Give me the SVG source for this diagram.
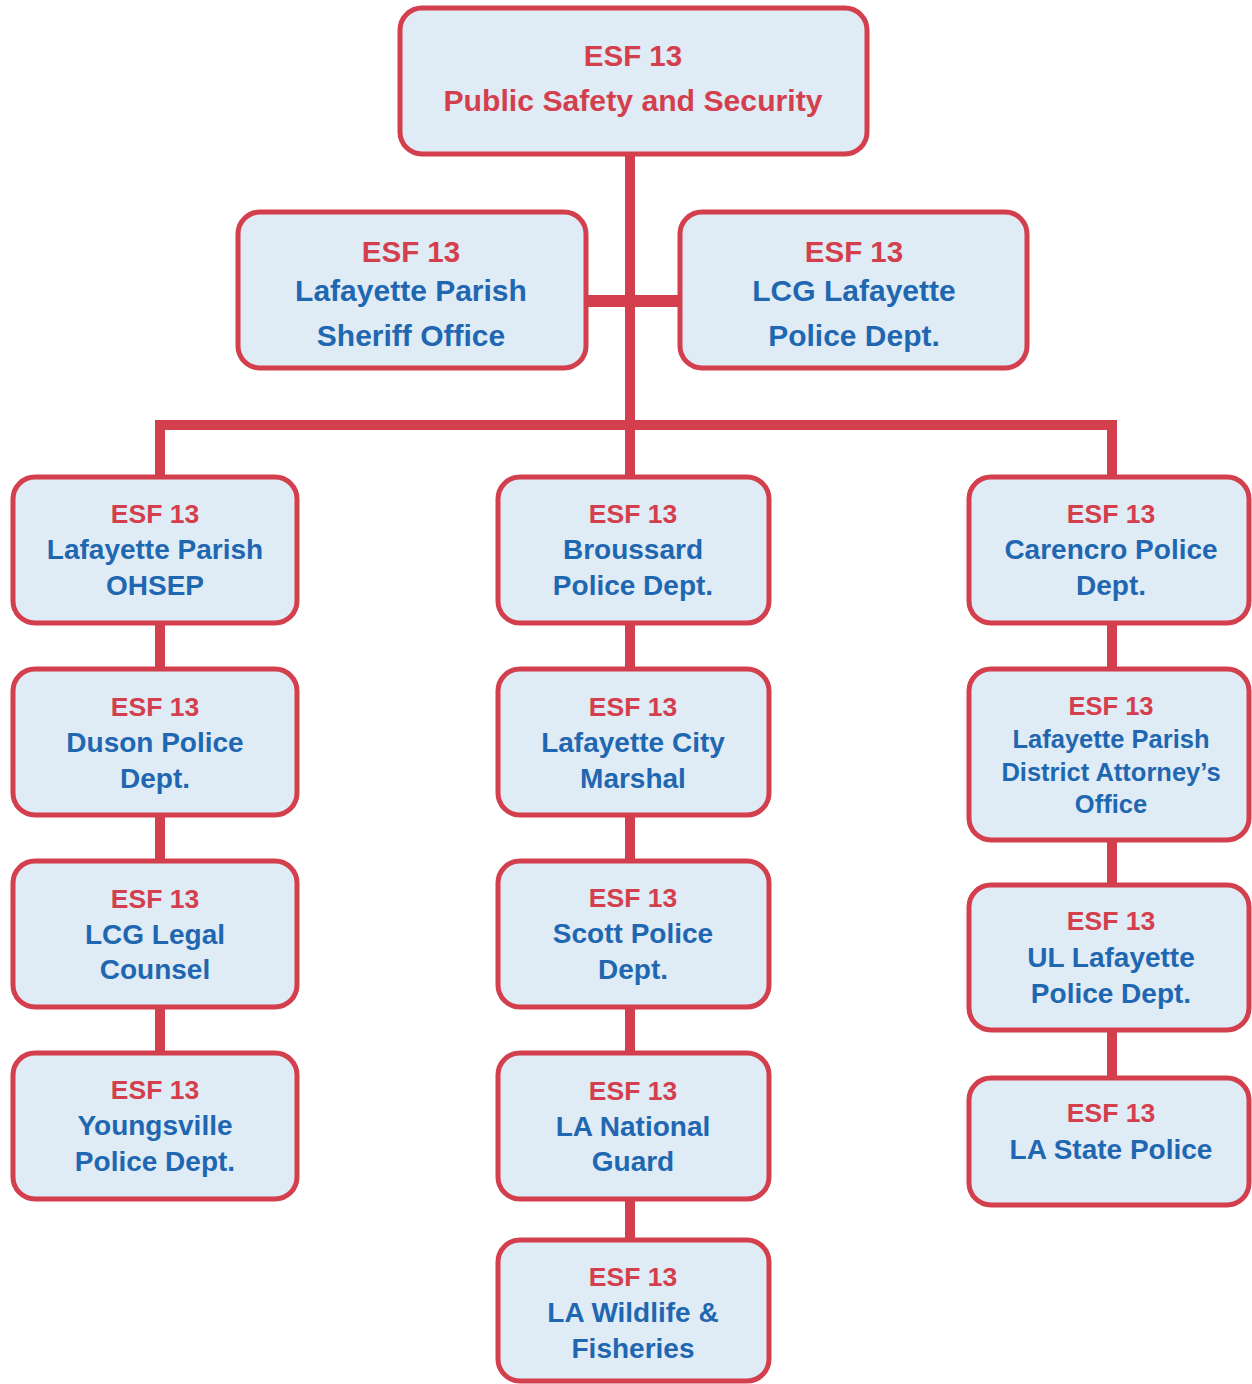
<svg xmlns="http://www.w3.org/2000/svg" width="1252" height="1384" viewBox="0 0 1252 1384">
<style>
.box{fill:#DFEBF5;stroke:#D43F4D;stroke-width:5}
.con{fill:none;stroke:#D43F4D;stroke-width:10}
text{font-family:"Liberation Sans",Arial,sans-serif;font-weight:bold;text-anchor:middle}
.r{fill:#D43F4D}
.b{fill:#1F67B1}
.s26{font-size:26.5px}
.s27{font-size:28px}
.s24{font-size:25.5px}
.s29{font-size:29.5px}
.s30{font-size:30px}
</style>
<rect width="1252" height="1384" fill="#FFFFFF"/>
<g id="connectors">
<path class="con" d="M630 154 V477"/>
<path class="con" d="M586 301 H680" style="stroke-width:12"/>
<path class="con" d="M160 477 V425 H1112 V477"/>
<path class="con" d="M160 623 V669 M160 815 V861 M160 1007 V1053"/>
<path class="con" d="M630 623 V669 M630 815 V861 M630 1007 V1053 M630 1199 V1240"/>
<path class="con" d="M1112 623 V669 M1112 840 V885 M1112 1030 V1078"/>
</g>
<g id="top">
<rect class="box" x="400" y="8" width="467" height="146" rx="22"/>
<text class="r s29" x="633" y="66">ESF 13</text>
<text class="r s29" x="633" y="111" style="font-size:30.2px">Public Safety and Security</text>
</g>
<g id="sheriff">
<rect class="box" x="238" y="212" width="348" height="156" rx="22"/>
<text class="r s29" x="411" y="262">ESF 13</text>
<text class="b s30" x="411" y="301">Lafayette Parish</text>
<text class="b s30" x="411" y="346">Sheriff Office</text>
</g>
<g id="lcgpd">
<rect class="box" x="680" y="212" width="347" height="156" rx="22"/>
<text class="r s29" x="854" y="262">ESF 13</text>
<text class="b s30" x="854" y="301">LCG Lafayette</text>
<text class="b s30" x="854" y="346">Police Dept.</text>
</g>
<g id="ohsep">
<rect class="box" x="13" y="477" width="284" height="146" rx="22"/>
<text class="r s26" x="155" y="523">ESF 13</text>
<text class="b s27" x="155" y="559">Lafayette Parish</text>
<text class="b s27" x="155" y="595">OHSEP</text>
</g>
<g id="duson">
<rect class="box" x="13" y="669" width="284" height="146" rx="22"/>
<text class="r s26" x="155" y="716">ESF 13</text>
<text class="b s27" x="155" y="752">Duson Police</text>
<text class="b s27" x="155" y="788">Dept.</text>
</g>
<g id="legal">
<rect class="box" x="13" y="861" width="284" height="146" rx="22"/>
<text class="r s26" x="155" y="908">ESF 13</text>
<text class="b s27" x="155" y="944">LCG Legal</text>
<text class="b s27" x="155" y="979">Counsel</text>
</g>
<g id="youngsville">
<rect class="box" x="13" y="1053" width="284" height="146" rx="22"/>
<text class="r s26" x="155" y="1099">ESF 13</text>
<text class="b s27" x="155" y="1135">Youngsville</text>
<text class="b s27" x="155" y="1171">Police Dept.</text>
</g>
<g id="broussard">
<rect class="box" x="498" y="477" width="271" height="146" rx="22"/>
<text class="r s26" x="633" y="523">ESF 13</text>
<text class="b s27" x="633" y="559">Broussard</text>
<text class="b s27" x="633" y="595">Police Dept.</text>
</g>
<g id="marshal">
<rect class="box" x="498" y="669" width="271" height="146" rx="22"/>
<text class="r s26" x="633" y="716">ESF 13</text>
<text class="b s27" x="633" y="752">Lafayette City</text>
<text class="b s27" x="633" y="788">Marshal</text>
</g>
<g id="scott">
<rect class="box" x="498" y="861" width="271" height="146" rx="22"/>
<text class="r s26" x="633" y="907">ESF 13</text>
<text class="b s27" x="633" y="943">Scott Police</text>
<text class="b s27" x="633" y="979">Dept.</text>
</g>
<g id="guard">
<rect class="box" x="498" y="1053" width="271" height="146" rx="22"/>
<text class="r s26" x="633" y="1100">ESF 13</text>
<text class="b s27" x="633" y="1136">LA National</text>
<text class="b s27" x="633" y="1171">Guard</text>
</g>
<g id="wildlife">
<rect class="box" x="498" y="1240" width="271" height="141" rx="22"/>
<text class="r s26" x="633" y="1286">ESF 13</text>
<text class="b s27" x="633" y="1322">LA Wildlife &amp;</text>
<text class="b s27" x="633" y="1358">Fisheries</text>
</g>
<g id="carencro">
<rect class="box" x="969" y="477" width="280" height="146" rx="22"/>
<text class="r s26" x="1111" y="523">ESF 13</text>
<text class="b s27" x="1111" y="559">Carencro Police</text>
<text class="b s27" x="1111" y="595">Dept.</text>
</g>
<g id="da">
<rect class="box" x="969" y="669" width="280" height="171" rx="22"/>
<text class="r s24" x="1111" y="715">ESF 13</text>
<text class="b s24" x="1111" y="748">Lafayette Parish</text>
<text class="b s24" x="1111" y="781">District Attorney’s</text>
<text class="b s24" x="1111" y="813">Office</text>
</g>
<g id="ulpd">
<rect class="box" x="969" y="885" width="280" height="145" rx="22"/>
<text class="r s26" x="1111" y="930">ESF 13</text>
<text class="b s27" x="1111" y="967">UL Lafayette</text>
<text class="b s27" x="1111" y="1003">Police Dept.</text>
</g>
<g id="statepolice">
<rect class="box" x="969" y="1078" width="280" height="127" rx="22"/>
<text class="r s26" x="1111" y="1122">ESF 13</text>
<text class="b s27" x="1111" y="1159">LA State Police</text>
</g>
</svg>
